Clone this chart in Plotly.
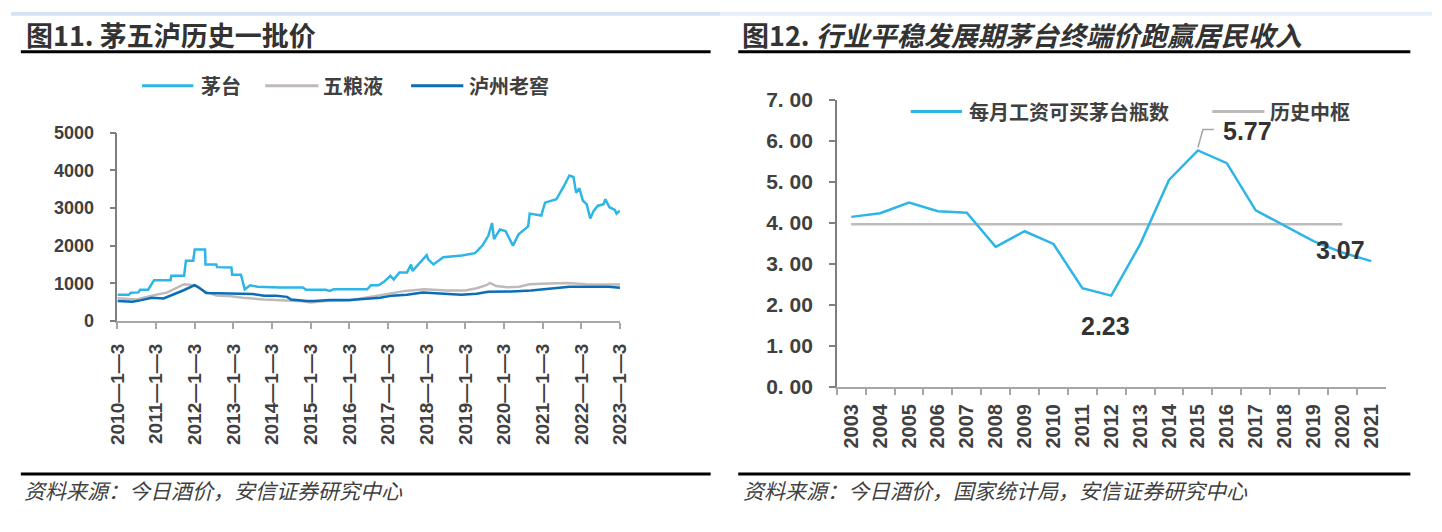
import plotly.graph_objects as go

W, H = 1442, 532

# ---------------- Left panel data (茅五泸历史一批价, 元/瓶) ----------------
mt_dates = ['2010-01-03', '2010-04-20', '2010-05-10', '2010-07-20', '2010-08-05', '2010-10-20',
            '2010-12-15', '2011-05-20', '2011-05-27', '2011-09-25', '2011-10-12', '2011-12-20',
            '2012-01-03', '2012-04-10', '2012-04-14', '2012-07-25', '2012-08-01', '2012-12-15',
            '2012-12-22', '2013-03-15', '2013-04-20', '2013-06-10', '2013-08-18', '2013-12-05',
            '2014-03-20', '2014-10-20', '2014-11-20', '2015-05-25', '2015-07-01', '2015-08-08',
            '2016-06-20', '2016-07-25', '2016-10-05', '2016-11-25', '2017-01-25', '2017-02-25',
            '2017-04-20', '2017-07-01', '2017-08-08', '2017-08-22', '2017-11-03', '2018-01-03',
            '2018-01-18', '2018-03-08', '2018-06-08', '2018-09-20', '2018-12-01', '2019-04-05',
            '2019-06-15', '2019-08-08', '2019-09-12', '2019-10-01', '2019-11-25', '2020-01-18',
            '2020-03-28', '2020-05-20', '2020-08-18', '2020-09-02', '2020-12-20', '2021-01-25',
            '2021-05-12', '2021-07-20', '2021-09-12', '2021-10-20', '2021-11-15', '2021-12-15',
            '2022-01-18', '2022-02-22', '2022-03-28', '2022-05-01', '2022-06-08', '2022-08-01',
            '2022-08-18', '2022-09-25', '2022-11-15', '2022-12-01', '2023-01-03']
mt_vals = [700, 700, 750, 760, 830, 830,
           1080, 1080, 1200, 1200, 1600, 1600,
           1900, 1900, 1500, 1500, 1430, 1420,
           1230, 1230, 840, 950, 910, 890,
           890, 890, 830, 830, 800, 840,
           840, 950, 950, 1040, 1200, 1100,
           1290, 1290, 1500, 1330, 1570, 1750,
           1630, 1500, 1690, 1710, 1740, 1800,
           2010, 2260, 2600, 2175, 2430, 2385,
           2000, 2300, 2510, 2850, 2800, 3140,
           3230, 3570, 3860, 3820, 3400, 3520,
           3190, 3100, 2720, 2930, 3060, 3100,
           3230, 3020, 2950, 2850, 2930]

wly_dates = ['2010-01-03', '2010-07-01', '2010-11-25', '2011-04-20', '2011-09-25', '2012-01-03',
             '2012-04-10', '2012-07-25', '2012-12-15', '2013-04-01', '2013-10-20', '2014-04-20',
             '2014-10-20', '2015-01-03', '2015-05-25', '2016-01-03', '2016-05-15', '2016-10-05',
             '2017-02-25', '2017-06-15', '2017-12-10', '2018-07-08', '2019-01-03', '2019-04-20',
             '2019-07-20', '2019-08-25', '2019-10-20', '2020-02-05', '2020-05-25', '2020-09-02',
             '2021-03-01', '2021-08-25', '2022-02-22', '2022-08-18', '2023-01-03']
wly_vals = [607, 573, 674, 759, 978, 952,
            784, 674, 658, 615, 573, 556,
            523, 489, 531, 548, 615, 674,
            759, 800, 843, 810, 810, 868,
            950, 1010, 927, 894, 910, 978,
            995, 1010, 978, 978, 970]

lz_dates = ['2010-01-03', '2010-05-25', '2010-08-05', '2010-11-25', '2011-03-15', '2011-05-27',
            '2011-09-15', '2012-01-03', '2012-02-08', '2012-04-20', '2012-08-08', '2013-01-03',
            '2013-03-15', '2013-07-01', '2013-10-20', '2014-02-08', '2014-05-25', '2014-07-01',
            '2014-11-25', '2015-02-08', '2015-07-01', '2016-01-03', '2016-07-01', '2016-10-20',
            '2017-02-08', '2017-07-01', '2017-11-25', '2018-05-25', '2018-11-25', '2019-04-20',
            '2019-08-08', '2020-03-15', '2020-09-15', '2021-04-20', '2021-09-15', '2022-04-20',
            '2022-09-15', '2023-01-03']
lz_vals = [531, 514, 548, 615, 598, 674,
           810, 952, 894, 742, 742, 742,
           725, 717, 674, 674, 641, 573,
           531, 531, 556, 556, 590, 615,
           674, 700, 759, 725, 700, 725,
           776, 784, 810, 868, 910, 910,
           910, 885]

left_tick_dates = ['%d-01-03' % y for y in range(2010, 2024)]
left_tick_text = ['%d—1—3' % y for y in range(2010, 2024)]
left_y_ticks = [0, 1000, 2000, 3000, 4000, 5000]

# ---------------- Right panel data (每月工资可买茅台瓶数) ----------------
years = ['2003', '2004', '2005', '2006', '2007', '2008', '2009', '2010', '2011', '2012',
         '2013', '2014', '2015', '2016', '2017', '2018', '2019', '2020', '2021']
bottles = [4.15, 4.24, 4.50, 4.29, 4.25, 3.42, 3.80, 3.49, 2.41, 2.23,
           3.48, 5.05, 5.77, 5.46, 4.31, 3.94, 3.56, 3.28, 3.07]
median_years = years[:-1]
median_value = 3.97
right_y_ticks = [0, 1, 2, 3, 4, 5, 6, 7]

# ---------------- Styles ----------------
C_MT = '#2DB5E8'
C_WLY = '#C0B9B9'
C_LZ = '#0B6DB6'
C_TEXT = '#404040'
CJK = 'Noto Sans CJK SC'
ARIAL = 'Liberation Sans, Arial, sans-serif'


def px(x):
    return x / W


def py(y):
    return 1 - y / H


fig = go.Figure()

fig.add_trace(go.Scatter(x=mt_dates, y=mt_vals, mode='lines', name='茅台',
                         line=dict(color=C_MT, width=2.5), xaxis='x', yaxis='y', showlegend=False))
fig.add_trace(go.Scatter(x=wly_dates, y=wly_vals, mode='lines', name='五粮液',
                         line=dict(color=C_WLY, width=2.5), xaxis='x', yaxis='y', showlegend=False))
fig.add_trace(go.Scatter(x=lz_dates, y=lz_vals, mode='lines', name='泸州老窖',
                         line=dict(color=C_LZ, width=2.5), xaxis='x', yaxis='y', showlegend=False))

fig.add_trace(go.Scatter(x=median_years, y=[median_value] * len(median_years), mode='lines',
                         name='历史中枢', line=dict(color=C_WLY, width=2.5),
                         xaxis='x2', yaxis='y2', showlegend=False))
fig.add_trace(go.Scatter(x=years, y=bottles, mode='lines', name='每月工资可买茅台瓶数',
                         line=dict(color=C_MT, width=2.5), xaxis='x2', yaxis='y2', showlegend=False))

fig.update_layout(
    width=W, height=H, margin=dict(l=0, r=0, t=0, b=0),
    paper_bgcolor='white', plot_bgcolor='white',
    xaxis=dict(domain=[px(108), px(618)], type='date',
               range=[left_tick_dates[0], left_tick_dates[-1]],
               tickvals=left_tick_dates, ticktext=left_tick_text, tickangle=-90,
               ticks='outside', ticklen=6, tickcolor='#A6A6A6', tickwidth=1.5,
               showline=True, linecolor='#A6A6A6', linewidth=2,
               showgrid=False, zeroline=False, anchor='y', ticklabelstandoff=7,
               tickfont=dict(family=ARIAL, size=19, color=C_TEXT, weight='bold')),
    yaxis=dict(domain=[py(323), py(126)], range=[0, 5000], tickvals=left_y_ticks,
               ticks='outside', ticklen=6, tickcolor='#7F7F7F', tickwidth=1.5,
               showline=True, linecolor='#7F7F7F', linewidth=1.5,
               showgrid=False, zeroline=False, anchor='x', ticklabelstandoff=12,
               tickfont=dict(family=ARIAL, size=18, color=C_TEXT, weight='bold')),
    xaxis2=dict(domain=[px(838), px(1395)], type='category', tickson='boundaries',
                categoryorder='array', categoryarray=years,
                range=[-0.5, len(years) - 0.5], autorange=False,
                ticks='outside', ticklen=6, tickcolor='#A6A6A6', tickwidth=1.5,
                tickangle=-90, showline=True, linecolor='#A6A6A6', linewidth=2,
                showgrid=False, zeroline=False, anchor='y2', ticklabelstandoff=7,
                tickfont=dict(family=ARIAL, size=20, color=C_TEXT, weight='bold')),
    yaxis2=dict(domain=[py(392), py(92)], range=[0, 7], tickvals=right_y_ticks,
                ticktext=[('%.2f' % v).replace('.', '. ') for v in right_y_ticks],
                ticks='outside', ticklen=6, tickcolor='#7F7F7F', tickwidth=1.5,
                showline=True, linecolor='#7F7F7F', linewidth=1.5,
                showgrid=False, zeroline=False, anchor='x2', ticklabelstandoff=12,
                tickfont=dict(family=ARIAL, size=21, color=C_TEXT, weight='bold')),
)

shapes = []
# top light band
shapes.append(dict(type='rect', xref='paper', yref='paper', x0=0, x1=px(720), y0=py(4), y1=1,
                   fillcolor='#D6E2F1', line=dict(width=0), layer='below'))
shapes.append(dict(type='rect', xref='paper', yref='paper', x0=px(720), x1=1, y0=py(4), y1=1,
                   fillcolor='#E6EEF8', line=dict(width=0), layer='below'))
# title underlines and bottom rules
for x0, x1 in [(10, 710), (738, 1420)]:
    for yy in (41.5, 483):
        shapes.append(dict(type='line', xref='paper', yref='paper', x0=px(x0), x1=px(x1),
                           y0=py(yy), y1=py(yy), line=dict(color='black', width=3)))
# legend samples
for x0, x1, yy, col in [(133, 185, 77, C_MT), (258, 312, 77, C_WLY), (406, 459, 77, C_LZ),
                        (913, 965, 104, C_MT), (1219, 1272, 104, C_WLY)]:
    shapes.append(dict(type='line', xref='paper', yref='paper', x0=px(x0), x1=px(x1),
                       y0=py(yy), y1=py(yy), line=dict(color=col, width=3)))
# leader line for max label
imax = bottles.index(max(bottles))
shapes.append(dict(type='path', xref='x2', yref='y2', xsizemode='pixel', ysizemode='pixel',
                   xanchor=imax, yanchor=bottles[imax],
                   path='M0,3 L5,21 L16,21', line=dict(color='#A6A6A6', width=1.5)))
fig.update_layout(shapes=shapes)

ann = []
ann.append(dict(xref='paper', yref='paper', x=px(13), y=py(23), xanchor='left', yanchor='middle',
                text='<b>图11. 茅五泸历史一批价</b>', showarrow=False,
                font=dict(family=CJK, size=27, color='#333333')))
ann.append(dict(xref='paper', yref='paper', x=px(740), y=py(23), xanchor='left', yanchor='middle',
                text='<b>图12. <i>行业平稳发展期茅台终端价跑赢居民收入</i></b>', showarrow=False,
                font=dict(family=CJK, size=27, color='#333333')))
ann.append(dict(xref='paper', yref='paper', x=px(11), y=py(500), xanchor='left', yanchor='middle',
                text='<i>资料来源：今日酒价，安信证券研究中心</i>', showarrow=False,
                font=dict(family=CJK, size=21, color='#404040')))
ann.append(dict(xref='paper', yref='paper', x=px(741), y=py(500), xanchor='left', yanchor='middle',
                text='<i>资料来源：今日酒价，国家统计局，安信证券研究中心</i>', showarrow=False,
                font=dict(family=CJK, size=21, color='#404040')))
for xx, yy, t in [(191, 77, '茅台'), (315, 77, '五粮液'), (463, 77, '泸州老窖'),
                  (970, 104, '每月工资可买茅台瓶数'), (1276, 104, '历史中枢')]:
    ann.append(dict(xref='paper', yref='paper', x=px(xx), y=py(yy), xanchor='left',
                    yanchor='middle', text='<b>%s</b>' % t, showarrow=False,
                    font=dict(family=CJK, size=20, color=C_TEXT)))
imin = bottles.index(min(bottles))
ilast = len(bottles) - 1
for i, dx, dy in [(imax, 50, 19), (imin, -6, -30), (ilast, -31, 11)]:
    ann.append(dict(xref='x2', yref='y2', x=i, y=bottles[i], xshift=dx, yshift=dy,
                    text='<b>%.2f</b>' % bottles[i], showarrow=False,
                    font=dict(family=ARIAL, size=25, color='#333333')))
fig.update_layout(annotations=ann)

fig.write_html('out.html', config={'displayModeBar': False},
               post_script="document.body.style.margin='0';")
